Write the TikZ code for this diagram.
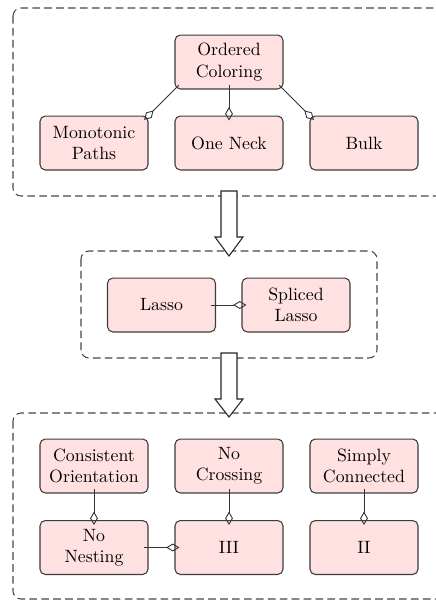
\documentclass[tikz,border=0pt]{standalone}
\usetikzlibrary{arrows.meta,positioning}
\definecolor{boxfill}{RGB}{255,225,226}
\definecolor{boxline}{RGB}{60,60,60}
\definecolor{dashline}{RGB}{70,70,70}
\tikzset{
  pbox/.style={draw=boxline, fill=boxfill, rounded corners=3pt, line width=0.6pt,
    minimum width=60.7pt, minimum height=30.3pt, align=center, inner sep=1pt,
    text width=58pt},
  conn/.style={draw=black!80, line width=0.5pt,
    -{Diamond[open,length=7.5pt,width=4.4pt]},
    shorten <=-2.8pt, shorten >=-2.8pt},
  diag/.style={conn, shorten <=-3.5pt, shorten >=-3.5pt},
  group/.style={draw=dashline, dash pattern=on 4.3pt off 2.4pt, rounded corners=4.5pt, line width=0.6pt},
  bigarrow/.style={draw=black!85, fill=white, line width=0.6pt, line join=miter},
}
\begin{document}
\begin{tikzpicture}[x=0.5618pt,y=-0.5618pt]
\useasboundingbox (0,0) rectangle (435,601);
% groups
\draw[group] (13,8) rectangle (450,196);
\draw[group] (81,251) rectangle (377,358);
\draw[group] (13,413) rectangle (450,599);
% top group
\node[pbox] (oc) at (229,62) {Ordered\\Coloring};
\node[pbox] (mp) at (94,143) {Monotonic\\Paths};
\node[pbox] (on) at (229,143) {One Neck};
\node[pbox] (bk) at (364,143) {Bulk};
\draw[diag] (oc.south west) -- (mp.north east);
\draw[conn] (oc.south) -- (on.north);
\draw[diag] (oc.south east) -- (bk.north west);
% middle group
\node[pbox] (la) at (161.5,305) {Lasso};
\node[pbox] (sl) at (296,305) {Spliced\\Lasso};
\draw[conn] (la.east) -- (sl.west);
% bottom group
\node[pbox] (co) at (94,466) {Consistent\\Orientation};
\node[pbox] (nc) at (229,466) {No\\Crossing};
\node[pbox] (sc) at (364,466) {Simply\\Connected};
\node[pbox] (nn) at (94,547.5) {No\\Nesting};
\node[pbox] (t3) at (229,547.5) {III};
\node[pbox] (t2) at (364,547.5) {II};
\draw[conn] (co.south) -- (nn.north);
\draw[conn] (nc.south) -- (t3.north);
\draw[conn] (sc.south) -- (t2.north);
\draw[conn] (nn.east) -- (t3.west);
% big arrows
\draw[bigarrow] (221,191) -- (237,191) -- (237,237) -- (243,237) -- (229,256)
  -- (215,237) -- (221,237) -- cycle;
\draw[bigarrow] (221,353) -- (237,353) -- (237,399) -- (243,399) -- (229,417)
  -- (215,399) -- (221,399) -- cycle;
\end{tikzpicture}
\end{document}
